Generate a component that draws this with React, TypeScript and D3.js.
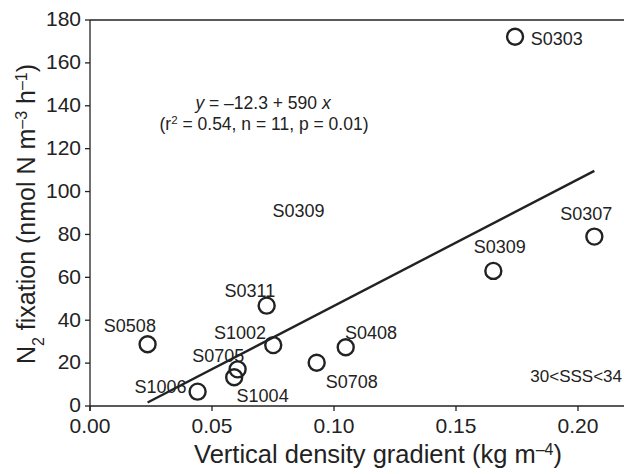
import React from 'react';
import * as d3 from 'd3';

// stations and measured values
const stations = ['S0303', 'S0307', 'S0309', 'S0408', 'S0708', 'S0311', 'S1002', 'S0508', 'S0705', 'S1006', 'S1004'];
const gradient = [0.1742, 0.2067, 0.1653, 0.1048, 0.0929, 0.0724, 0.0751, 0.0236, 0.0605, 0.0441, 0.0591];
const fixation = [172.2, 79.0, 63.0, 27.4, 20.2, 46.8, 28.4, 28.8, 17.1, 6.7, 13.4];

// stray label printed in the figure without a point
const strayLabel = { text: 'S0309', x: 0.0855, y: 88.3 };

const fitIntercept = -12.3;
const fitSlope = 590;

const xTicks = [0, 0.05, 0.1, 0.15, 0.2];
const yTicks = [0, 20, 40, 60, 80, 100, 120, 140, 160, 180];

// label placement around each circle: [dx, dy, anchor]
const labelPos: Record<string, [number, number, string]> = {
    S0303: [15.7, 8.6, 'start'],
    S0307: [-8, -16.7, 'middle'],
    S0309: [6.4, -17.7, 'middle'],
    S0408: [-0.7, -8.3, 'start'],
    S0708: [9, 25.6, 'start'],
    S0311: [-16.7, -9, 'middle'],
    S1002: [-33.3, -6, 'middle'],
    S0508: [-17.7, -12, 'middle'],
    S0705: [-19.4, -7.6, 'middle'],
    S1006: [-11, 1, 'end'],
    S1004: [2.4, 24.4, 'start']
};

const W = 624;
const H = 474;
const ink = '#222';
const font = '"Liberation Sans", Arial, Helvetica, sans-serif';

export default function App() {
    const x = d3.scaleLinear().domain([0, 0.22]).range([90, 90 + 0.22 * 2440]);
    const y = d3.scaleLinear().domain([0, 180]).range([406, 20]);

    const xMin = d3.min(gradient) as number;
    const xMax = d3.max(gradient) as number;
    const fit = d3.line<number>()
        .x(d => x(d))
        .y(d => y(fitIntercept + fitSlope * d));

    const x0 = x(0), y0 = y(0), yTop = y(180);

    return (
        <svg width={W} height={H} style={{ position: 'absolute', left: 0, top: 0, background: '#fff' }}
             fontFamily={font} fill={ink}>
            {/* frame */}
            <line x1={x0} x2={W} y1={yTop} y2={yTop} stroke={ink} strokeWidth={1.3}/>
            <line x1={x0} x2={W} y1={y0} y2={y0} stroke={ink} strokeWidth={1.3}/>
            <line x1={x0} x2={x0} y1={yTop} y2={y0 + 5} stroke={ink} strokeWidth={1.3}/>

            {/* y axis */}
            {yTicks.map(t => (
                <g key={t}>
                    <line x1={x0 - 5} x2={x0} y1={y(t)} y2={y(t)} stroke={ink} strokeWidth={1.3}/>
                    <text x={x0 - 9} y={y(t)} dy="0.3em" textAnchor="end" fontSize={21}>{t}</text>
                </g>
            ))}

            {/* x axis */}
            {xTicks.map(t => (
                <g key={t}>
                    <line x1={x(t)} x2={x(t)} y1={y0} y2={y0 + 5} stroke={ink} strokeWidth={1.3}/>
                    <text x={x(t)} y={y0 + 27} textAnchor="middle" fontSize={21}>{d3.format('.2f')(t)}</text>
                </g>
            ))}

            <text x={378} y={463} textAnchor="middle" fontSize={25.5}>
                Vertical density gradient (kg m<tspan baselineShift="super" fontSize={16}>–4</tspan>)
            </text>
            <text transform="translate(35,214) rotate(-90)" textAnchor="middle" fontSize={25}>
                N<tspan baselineShift="sub" fontSize={16}>2</tspan> fixation (nmol N m<tspan baselineShift="super" fontSize={16}>–3</tspan> h<tspan baselineShift="super" fontSize={16}>–1</tspan>)
            </text>

            {/* regression */}
            <path d={fit([xMin, xMax]) as string} fill="none" stroke={ink} strokeWidth={2.4}/>

            {/* points */}
            {stations.map((s, i) => {
                const cx = x(gradient[i]);
                const cy = y(fixation[i]);
                const [dx, dy, anchor] = labelPos[s];
                return (
                    <g key={s}>
                        <circle cx={cx} cy={cy} r={8} fill="none" stroke={ink} strokeWidth={2.4}/>
                        <text x={cx + dx} y={cy + dy} textAnchor={anchor as any} fontSize={18}>{s}</text>
                    </g>
                );
            })}

            <text x={x(strayLabel.x)} y={y(strayLabel.y)} textAnchor="middle" fontSize={18}>{strayLabel.text}</text>

            {/* equation */}
            <text x={263} y={109} textAnchor="middle" fontSize={17.5}>
                <tspan fontStyle="italic">y</tspan> = –12.3 + 590 <tspan fontStyle="italic">x</tspan>
            </text>
            <text x={264} y={130} textAnchor="middle" fontSize={17.5}>
                (r<tspan baselineShift="super" fontSize={11.5}>2</tspan> = 0.54, n = 11, p = 0.01)
            </text>

            <text x={622} y={382} textAnchor="end" fontSize={17}>30&lt;SSS&lt;34</text>
        </svg>
    );
}
